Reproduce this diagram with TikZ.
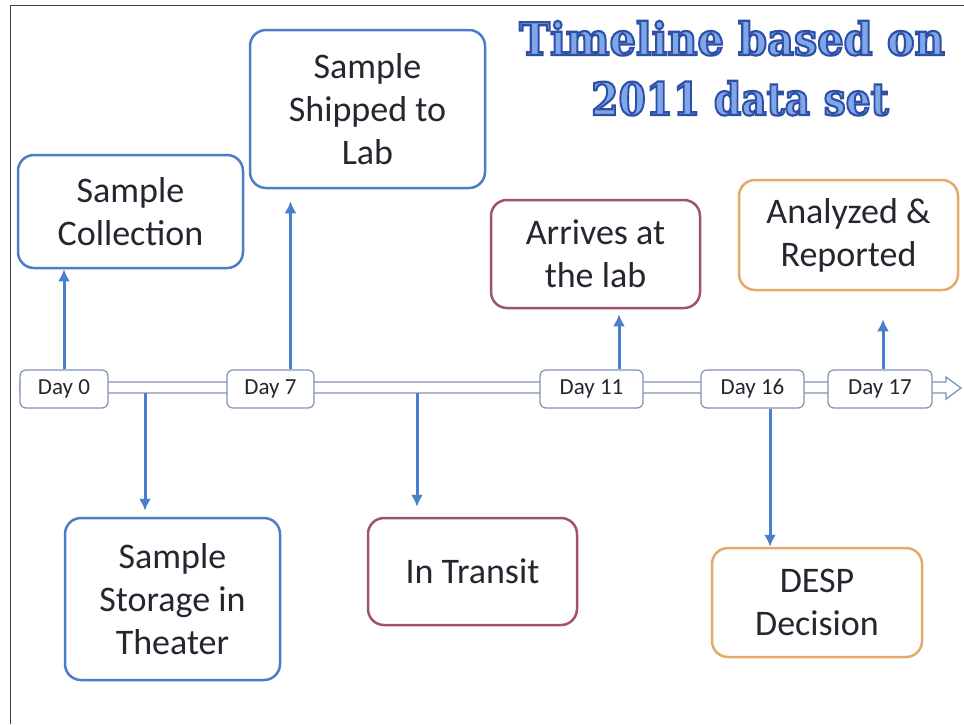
\documentclass[tikz,border=0pt]{standalone}
\usepackage{fontspec}
\setmainfont{Carlito}
\newfontfamily\titlefont{DejaVu Serif}
\usetikzlibrary{arrows.meta}

\definecolor{boxblue}{HTML}{4A7EC6}
\definecolor{boxred}{HTML}{A05565}
\definecolor{boxorange}{HTML}{E3AA68}
\definecolor{arrowblue}{HTML}{4A7FCB}
\definecolor{dayline}{HTML}{7F93B8}
\definecolor{textgray}{HTML}{262630}
\definecolor{titlefill}{HTML}{7FA6E6}

% outlined title text (fill + stroke in one pass)
\newcommand{\outlined}[1]{\textcolor{titlefill}{\special{pdf:literal direct 2 Tr 2.2 w 0.18 0.31 0.66 RG}#1\special{pdf:literal direct 0 Tr}}}

\tikzset{
	event/.style={draw, line width=2.5pt, rounded corners=16pt, align=center, text=textgray, inner sep=0pt, font=\fontsize{36}{43}\selectfont},
	day/.style={draw=dayline, line width=1.2pt, fill=white, rounded corners=6pt, text=textgray, inner sep=0pt, minimum height=38pt, font=\fontsize{23}{27}\selectfont},
	flow/.style={-{Latex[length=12pt,width=12pt]}, draw=arrowblue, line width=3pt},
	shaft/.style={draw=dayline, line width=1.3pt, fill=white},
	heading/.style={inner sep=0pt, anchor=base, font=\titlefont\bfseries\fontsize{45}{50}\selectfont}
}

\begin{document}
\begin{tikzpicture}[x=1pt, y=-1pt]
	\useasboundingbox[fill=white] (0,0) rectangle (964,724);
	\draw[black!75, line width=0.8pt] (10,724) -- (10,5) -- (964,5);

	% title
	\node[heading] (title) at (732,55) {\scalebox{0.92}[1]{\outlined{Timeline based on}}};
	\node[heading] (title2) at (740,115) {\scalebox{0.87}[1]{\outlined{2011 data set}}};

	% timeline arrow
	\draw[shaft] (20,382) -- (946,382) -- (946,377) -- (961,388) -- (946,399) -- (946,393) -- (20,393) -- cycle;

	% days
	\node[day, minimum width=88pt] (d0) at (64,389) {Day 0};
	\node[day, minimum width=87pt] (d7) at (270.5,389) {Day 7};
	\node[day, minimum width=103pt] (d11) at (591.5,389) {Day 11};
	\node[day, minimum width=103pt] (d16) at (752.5,389) {Day 16};
	\node[day, minimum width=104pt] (d17) at (880,389) {Day 17};

	% events
	\node[event, draw=boxblue, minimum width=225pt, minimum height=113pt] (coll) at (130.5,211.5) {Sample\\Collection};
	\node[event, draw=boxblue, minimum width=235pt, minimum height=158pt] (ship) at (367.5,109) {Sample\\Shipped to\\Lab};
	\node[event, draw=boxred, minimum width=209pt, minimum height=108pt] (arr) at (595.5,254) {Arrives at\\the lab};
	\node[event, draw=boxorange, minimum width=219pt, minimum height=110pt] (rep) at (848.5,235) {Analyzed \&\\Reported};
	\node[event, draw=boxblue, minimum width=215pt, minimum height=162pt] (stor) at (172.5,599) {Sample\\Storage in\\Theater};
	\node[event, draw=boxred, minimum width=209pt, minimum height=107pt] (trans) at (472.5,571.5) {In Transit};
	\node[event, draw=boxorange, minimum width=210pt, minimum height=109pt] (desp) at (817,602.5) {DESP\\Decision};

	\coordinate (tl1) at (145,393);
	\coordinate (tl2) at (417,393);

	\draw[flow] (d0.north) -- (d0.north |- coll.south);
	\draw[flow, shorten >=12pt] ([xshift=20pt]d7.north) -- ([xshift=20pt]d7.north |- ship.south);
	\draw[flow, shorten >=5pt] ([xshift=27.5pt]d11.north) -- ([xshift=27.5pt]d11.north |- arr.south);
	\draw[flow, shorten >=28pt] ([xshift=3pt]d17.north) -- ([xshift=3pt]d17.north |- rep.south);
	\draw[flow, shorten >=6pt] (tl1) -- (tl1 |- stor.north);
	\draw[flow, shorten >=10pt] (tl2) -- (tl2 |- trans.north);
	\draw[flow] ([xshift=17.5pt]d16.south) -- ([xshift=17.5pt]d16.south |- desp.north);
\end{tikzpicture}
\end{document}
